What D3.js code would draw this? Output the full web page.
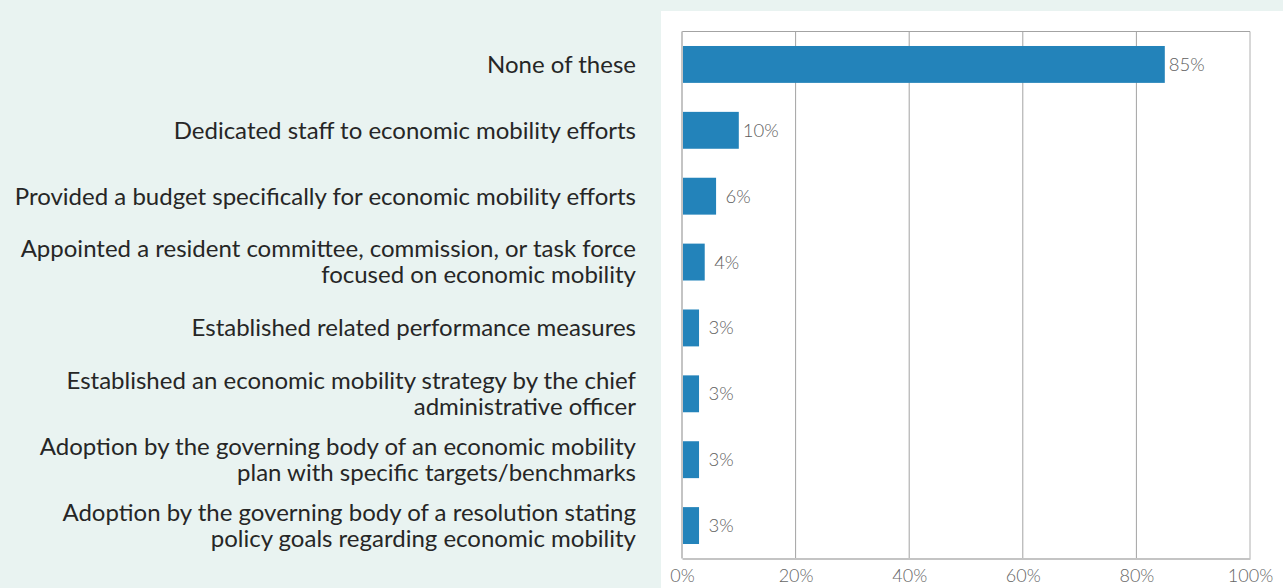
<!DOCTYPE html>
<html>
<head>
<meta charset="utf-8">
<script src="https://cdn.jsdelivr.net/npm/d3@7"></script>
<style>
  html, body { margin: 0; padding: 0; background: #e9f3f1; }
  svg { display: block; }
</style>
</head>
<body>
<svg id="chart" width="1283" height="588"></svg>
<script>
// Actions taken to advance economic mobility (share of respondents)
const categories = [
  ["None of these"],
  ["Dedicated staff to economic mobility efforts"],
  ["Provided a budget specifically for economic mobility efforts"],
  ["Appointed a resident committee, commission, or task force", "focused on economic mobility"],
  ["Established related performance measures"],
  ["Established an economic mobility strategy by the chief", "administrative officer"],
  ["Adoption by the governing body of an economic mobility", "plan with specific targets/benchmarks"],
  ["Adoption by the governing body of a resolution stating", "policy goals regarding economic mobility"]
];
const values = [85, 10, 6, 4, 3, 3, 3, 3];
const tickValues = [0, 20, 40, 60, 80, 100];

const svg = d3.select("#chart");
const W = 1283, H = 588;
const panel = { x: 661, y: 11 };
const plot = { left: 682, right: 1250, top: 31.5, bottom: 558.5 };

svg.append("rect").attr("width", W).attr("height", H).attr("fill", "#e9f3f1");
svg.append("rect")
  .attr("x", panel.x).attr("y", panel.y)
  .attr("width", W - panel.x).attr("height", H - panel.y)
  .attr("fill", "#ffffff");

const x = d3.scaleLinear().domain([0, 100]).range([plot.left, plot.right]);
const y = d3.scaleBand()
  .domain(d3.range(categories.length))
  .range([plot.top, plot.bottom])
  .paddingInner(0.44).paddingOuter(0.22);

// vertical grid lines
svg.append("g").selectAll("line")
  .data(tickValues.filter(t => t > 0))
  .join("line")
  .attr("x1", d => x(d)).attr("x2", d => x(d))
  .attr("y1", plot.top).attr("y2", plot.bottom)
  .attr("stroke", d => d === 100 ? "#b0b0b0" : "#a3a3a3")
  .attr("stroke-width", 1);

// top frame line
svg.append("line")
  .attr("x1", plot.left).attr("x2", plot.right)
  .attr("y1", plot.top).attr("y2", plot.top)
  .attr("stroke", "#a3a3a3").attr("stroke-width", 1);

// bars
svg.append("g").selectAll("rect")
  .data(values)
  .join("rect")
  .attr("x", x(0))
  .attr("y", (d, i) => y(i))
  .attr("width", d => x(d) - x(0))
  .attr("height", y.bandwidth())
  .attr("fill", "#2383ba");

// value labels
svg.append("g").selectAll("text")
  .data(values)
  .join("text")
  .attr("x", d => x(d) + 22)
  .attr("y", (d, i) => y(i) + y.bandwidth() / 2)
  .attr("dy", "0.35em")
  .attr("text-anchor", "middle")
  .attr("font-family", "Lato, sans-serif")
  .attr("font-weight", 300)
  .attr("font-size", 18.5)
  .attr("fill", "#5e5e5e")
  .text(d => d + "%");

// left and bottom axes
svg.append("line")
  .attr("x1", plot.left).attr("x2", plot.left)
  .attr("y1", plot.top).attr("y2", plot.bottom)
  .attr("stroke", "#c4c4c4").attr("stroke-width", 2);

const xAxis = d3.axisBottom(x)
  .tickValues(tickValues)
  .tickSize(0)
  .tickPadding(11)
  .tickFormat(d => d + "%");
const gx = svg.append("g")
  .attr("transform", `translate(0,${plot.bottom})`)
  .call(xAxis);
gx.select(".domain").attr("stroke", "#c4c4c4").attr("stroke-width", 2);
gx.selectAll("text")
  .attr("font-family", "Lato, sans-serif")
  .attr("font-weight", 300)
  .attr("font-size", 18)
  .attr("fill", "#666666");

// category labels
const lineH = 26;
const labels = svg.append("g").selectAll("text")
  .data(categories)
  .join("text")
  .attr("x", 636)
  .attr("y", (d, i) => y(i) + y.bandwidth() / 2 - (d.length - 1) * lineH / 2)
  .attr("text-anchor", "end")
  .attr("font-family", "Lato, sans-serif")
  .attr("font-size", 24)
  .attr("fill", "#262626");
labels.selectAll("tspan")
  .data(d => d)
  .join("tspan")
  .attr("x", 636)
  .attr("dy", (d, i) => i === 0 ? "0.35em" : lineH)
  .text(d => d);
</script>
</body>
</html>
